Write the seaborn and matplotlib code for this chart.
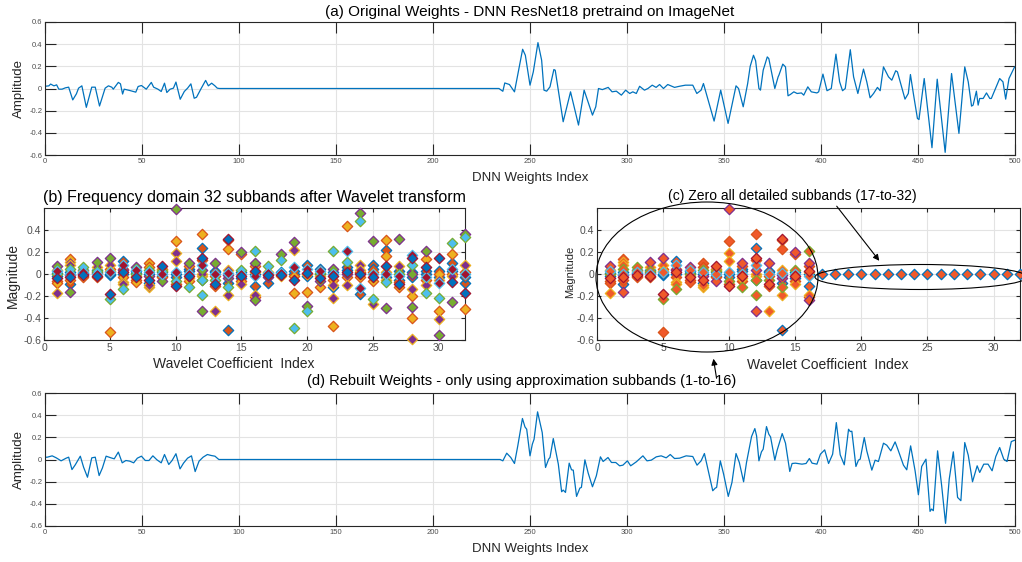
import numpy as np
import pandas as pd
import matplotlib.pyplot as plt
import seaborn as sns
from matplotlib.patches import Ellipse

# ---------------- data ----------------
# (a) original weights: vertices of the curve (index, amplitude)
orig_idx = [0, 2, 2.9, 4.6, 6, 7.1, 8.8, 10.5, 12.2, 14.3, 16.2, 17.3, 19, 21.3, 24.1, 25.9,
            28.1, 31, 32.7, 34.4, 35.2, 37.8, 38.9, 40, 40.8, 43.7, 46.8, 48, 49.7, 52.2, 54.8,
            56, 58.2, 59.9, 61.6, 62.8, 64.5, 66.2, 67.5, 69.7, 71.8, 73.5, 75.2, 76.9, 78.1,
            80.3, 82.8, 84.2, 85.9, 87.6, 88.8, 90, 234, 236, 237, 239.4, 242, 246.2, 247.6,
            250, 251.7, 254.1, 256, 257.2, 258.6, 260.3, 262.3, 263, 267.1, 270.9, 275, 277.9,
            282.2, 283.9, 285.3, 287.3, 290.3, 292.3, 294.5, 297.1, 299.3, 301.4, 303, 304.8,
            306.5, 309, 310.8, 313, 315, 316.8, 318.8, 321, 324.5, 327, 330.1, 333.9, 336,
            338.2, 339.4, 344.9, 348.3, 352.1, 356.2, 357.5, 359.9, 362.2, 363.5, 365.2, 366.3,
            368, 368.8, 370.2, 372.3, 373.1, 376.2, 377.9, 378.3, 380.3, 381.7, 383, 384.2, 386,
            387.7, 389.9, 391.1, 393.2, 395, 397.9, 398.8, 401, 403.1, 405.3, 407.7, 409.6,
            411.1, 412.5, 415.1, 416.8, 419, 421.9, 423.6, 425.3, 427.1, 429.1, 430.5, 432.2,
            434.8, 436.5, 438.5, 439.4, 443.3, 445, 446.1, 447.6, 449.7, 450.5, 453.2, 457.2,
            459.9, 464, 467.3, 471.1, 474.1, 475.9, 477.6, 478.4, 480.1, 481, 481.8, 483.6,
            485.3, 487, 487.8, 489.6, 492.1, 493.8, 495.2, 496.9, 499.8, 500]
orig_amp = [0.02, 0.024, 0.04, 0.024, 0.033, -0.006, -0.006, 0.006, 0.012, -0.103, -0.048,
            0.003, 0.024, -0.17, 0.012, 0.012, -0.158, 0.003, 0.024, 0.012, -0.006, 0.055,
            0.042, -0.05, -0.006, -0.018, -0.033, 0.018, 0.027, -0.006, 0.055, 0.012, -0.006,
            -0.027, 0.048, -0.036, -0.006, 0.003, 0.058, -0.097, -0.027, 0.003, 0.042, -0.088,
            -0.079, -0.006, 0.073, 0.024, 0.048, 0.024, 0.003, 0, 0, -0.025, 0.05, 0.036,
            -0.03, 0.354, 0.30, 0.03, 0.15, 0.414, 0.255, -0.015, -0.024, 0.015, 0.171, 0.165,
            -0.30, -0.03, -0.33, -0.015, -0.24, -0.165, 0, -0.01, 0.01, -0.03, -0.024, -0.06,
            -0.015, -0.045, -0.03, -0.045, 0.02, -0.015, 0, 0.03, 0.01, 0.036, 0, 0.036, 0.01,
            0.02, 0.03, 0.03, -0.045, -0.015, 0.045, -0.294, -0.015, -0.315, 0.024, 0.0,
            -0.165, 0.045, 0.2, 0.30, 0.25, 0.0, -0.015, 0.165, 0.285, 0.27, 0.0, 0.105, 0.12,
            0.22, 0.195, -0.066, -0.054, -0.03, -0.045, -0.04, -0.06, 0.015, -0.03, -0.04,
            -0.03, 0.13, -0.02, 0, 0.31, 0.06, -0.02, 0, 0.35, 0.105, -0.045, 0.175, 0.06,
            -0.084, -0.045, 0.01, -0.02, 0.195, 0.105, 0.075, 0.16, 0.15, -0.096, -0.045, 0.126,
            -0.045, -0.27, -0.28, 0.09, -0.534, 0.084, -0.576, 0.135, -0.405, 0.195, 0.06,
            -0.159, -0.15, -0.024, -0.15, -0.09, -0.09, -0.04, -0.09, -0.09, -0.015, 0.09, 0.06,
            -0.096, 0.09, 0.195, 0.19]

# (d) rebuilt weights: vertices of the curve (index, amplitude)
rebuilt_idx = [0, 1.2, 3.7, 5.8, 8.3, 10.9, 12.2, 13.9, 15.6, 18.2, 19.9, 21.9, 24.1, 25.9,
               27.9, 29.6, 31.5, 34, 35.7, 37.8, 39.8, 41.7, 43.7, 45.7, 47.6, 49.7, 51.7,
               53.6, 55.6, 57.7, 59.9, 61.6, 63.8, 65.5, 67.5, 69.6, 71.4, 73.5, 75.5, 77.4,
               79.4, 81.5, 83.7, 85.7, 87.6, 89.6, 234.6, 236, 238, 240.1, 242, 243.7, 246.1,
               247.4, 248.3, 250, 251.2, 252.1, 253.9, 256.3, 258, 259.6, 260.3, 262, 264.6,
               266.3, 267.1, 268.3, 270.2, 271.4, 272.3, 274, 275.7, 276.5, 278.3, 280, 282.2,
               284.2, 286.3, 287.7, 290.2, 292, 294.2, 296.2, 297.9, 300.2, 301.9, 304.8, 308.2,
               310.3, 312.5, 315.1, 317.6, 320.2, 322.3, 324.5, 327.1, 330.5, 333.9, 336.1,
               338.2, 339.9, 342.1, 344.2, 345.5, 346.2, 348.1, 349.8, 352.2, 354.1, 356.2,
               357.9, 360.1, 361.6, 364.2, 365.9, 366.8, 368, 369.3, 370.2, 371.9, 373.1, 374,
               376.2, 377.4, 380, 381.7, 383.9, 385.1, 386.8, 390.2, 392.3, 394, 395.4, 397.9,
               399.7, 401.9, 403.9, 406, 407.9, 409.9, 412, 414.2, 415.1, 415.9, 418, 419.3,
               420.2, 422.3, 423.6, 426.2, 427.9, 429.6, 432.2, 433.9, 436, 438.2, 439.6, 442.5,
               444.2, 446.2, 448.5, 450.2, 451.9, 454.1, 456.2, 457, 457.9, 460.1, 462.2, 464.2,
               466.1, 468.2, 470.4, 472.1, 474.1, 475.9, 478.1, 480.5, 481.8, 483.9, 486.1,
               488.2, 490.1, 492.1, 494.2, 495.9, 498.1, 499.8, 500]
rebuilt_amp = [0.02, 0.021, 0.033, 0.015, -0.012, 0.012, 0.021, -0.091, -0.048, 0.03, -0.07,
               -0.16, 0.015, 0.021, -0.145, -0.076, 0.03, 0.015, 0.006, 0.067, -0.03, -0.009,
               -0.015, -0.03, 0.012, 0.03, -0.009, -0.009, 0.033, -0.003, -0.03, 0.045, -0.045,
               -0.009, 0.052, -0.085, -0.033, 0.012, 0.033, -0.109, -0.015, 0.021, 0.045, 0.036,
               0.03, 0, 0, -0.012, 0.057, 0.018, -0.036, 0.123, 0.37, 0.294, 0.273, 0.033,
               0.138, 0.183, 0.43, 0.243, -0.072, 0.003, 0.018, 0.189, -0.042, -0.291, -0.276,
               -0.297, -0.033, -0.093, -0.096, -0.333, -0.258, -0.252, -0.003, -0.123, -0.246,
               -0.147, 0.024, -0.018, 0.018, -0.027, -0.027, -0.057, -0.051, -0.012, -0.057,
               -0.021, 0.033, -0.012, -0.006, 0.024, 0.033, 0.015, 0.045, 0.009, 0.012, 0.033,
               0.027, -0.051, -0.012, 0.054, -0.117, -0.282, -0.258, -0.252, -0.012, -0.132,
               -0.333, -0.207, 0.054, -0.027, -0.201, -0.027, 0.207, 0.279, 0.213, -0.012,
               0.069, 0.093, 0.297, 0.228, 0.204, -0.006, 0.084, 0.234, 0.147, -0.108, -0.036,
               -0.033, -0.042, -0.036, 0.009, -0.033, -0.042, 0.048, 0.087, -0.036, 0.048, 0.333,
               0.042, -0.048, 0.273, 0.252, 0.255, -0.063, -0.006, 0.003, 0.198, 0.078, -0.096,
               -0.006, -0.018, 0.147, 0.129, 0.078, 0.159, 0.093, -0.051, -0.093, 0.123, -0.102,
               -0.318, -0.063, 0.003, -0.468, -0.447, -0.462, 0.078, -0.237, -0.576, -0.177,
               0.069, -0.342, -0.372, 0.153, 0.039, -0.201, -0.057, -0.117, -0.042, -0.042,
               -0.102, 0.027, 0.108, 0.003, -0.018, 0.162, 0.174, 0.175]

# (b) wavelet coefficients per subband (1..32)
subband_values = [
    [-0.02, -0.06, -0.17, 0.07, 0.0, 0.03, -0.04, 0.01, -0.08, 0.04],
    [-0.09, 0.14, 0.11, -0.16, 0.05, 0.0, -0.03, 0.02, -0.05, 0.08, -0.01],
    [0.01, -0.02, 0.03, 0.0, 0.06, 0.02, -0.01, 0.04, -0.03],
    [0.02, -0.03, 0.06, 0.11, 0.03, 0.0, -0.02, 0.04, 0.01],
    [-0.01, -0.53, 0.08, 0.15, -0.23, 0.02, -0.18, 0.0, 0.05, 0.03],
    [0.12, 0.05, -0.07, 0.04, -0.14, 0.08, 0.02, 0.0, -0.03, -0.09],
    [0.03, -0.05, -0.02, 0.06, 0.0, 0.04, -0.03, 0.01, -0.07],
    [-0.08, 0.10, -0.12, -0.02, 0.04, 0.02, -0.05, 0.0, 0.06, -0.10],
    [0.02, -0.03, 0.04, -0.06, 0.03, 0.0, 0.07, -0.02, 0.05],
    [0.0, 0.30, 0.19, 0.59, -0.06, 0.02, -0.11, -0.03, -0.09, 0.12],
    [0.05, 0.07, -0.04, 0.10, -0.12, 0.0, -0.02, 0.03, -0.06],
    [0.24, 0.36, -0.02, -0.34, -0.19, 0.08, 0.15, -0.05, 0.13, 0.0, 0.04, -0.05],
    [0.02, -0.11, -0.34, 0.10, -0.05, 0.0, -0.09, 0.03, -0.02],
    [-0.51, 0.23, -0.19, -0.04, -0.12, 0.01, 0.32, -0.08, 0.31, 0.04, -0.01],
    [-0.04, 0.18, -0.09, 0.20, 0.04, 0.0, -0.02, 0.02, -0.06],
    [-0.11, 0.07, -0.19, -0.24, 0.21, -0.02, 0.03, 0.0, -0.21, 0.02, 0.10],
    [-0.08, 0.0, 0.02, -0.03, 0.07, 0.01, -0.01],
    [0.02, 0.0, -0.02, 0.18, 0.13, 0.01, -0.01],
    [0.0, -0.17, 0.22, 0.29, -0.49, 0.06, -0.05, 0.03, -0.02],
    [0.08, -0.16, 0.0, -0.29, -0.34, 0.05, 0.01, -0.02],
    [0.05, -0.12, -0.02, -0.06, 0.01, 0.03, -0.04, 0.0],
    [-0.12, -0.47, -0.22, 0.05, 0.21, 0.0, -0.02, 0.02, -0.05, -0.10],
    [0.04, 0.44, -0.10, 0.0, 0.11, 0.21, 0.02, 0.06, -0.03],
    [-0.18, 0.02, 0.08, 0.55, 0.48, -0.13, 0.0, 0.01, -0.03, 0.04],
    [0.08, -0.06, -0.27, 0.30, -0.23, 0.0, -0.03, 0.05, 0.02],
    [0.22, 0.31, 0.02, -0.31, -0.07, 0.0, 0.07, -0.03, 0.16, -0.05],
    [-0.05, -0.12, 0.07, 0.32, 0.0, -0.02, -0.09, 0.03, -0.07],
    [-0.03, -0.20, -0.59, -0.30, 0.08, 0.17, 0.15, 0.02, -0.40, -0.14, 0.0],
    [0.0, 0.14, -0.10, 0.21, -0.17, -0.03, 0.06, 0.03, -0.05],
    [-0.03, -0.34, -0.41, -0.55, -0.22, -0.08, 0.15, 0.03, 0.0, -0.05],
    [0.10, 0.18, -0.02, -0.25, 0.28, 0.05, -0.07, 0.03, 0.0],
    [-0.08, -0.32, 0.08, 0.36, 0.34, 0.0, -0.17, -0.03, 0.02],
]
n_kept = 16  # approximation subbands kept in (c)

weight_ticks = list(range(0, 501, 50))
amp_ticks = [-0.6, -0.4, -0.2, 0, 0.2, 0.4, 0.6]
band_ticks = [0, 5, 10, 15, 20, 25, 30]
mag_ticks = [-0.6, -0.4, -0.2, 0, 0.2, 0.4]

# ---------------- style ----------------
sns.set_theme(style="whitegrid")
plt.rcParams['font.family'] = ['Liberation Sans', 'DejaVu Sans']
mcol = ['#0072BD', '#D95319', '#EDB120', '#7E2F8E', '#77AC30', '#4DBEEE', '#A2142F']
AX_COL = '#262626'
W, H = 1022, 562


def rect(l, t, r, b):
    return [l / W, 1 - b / H, (r - l) / W, (b - t) / H]


def style_axes(ax, ticklen, tickfs):
    for s in ax.spines.values():
        s.set_color(AX_COL)
        s.set_linewidth(0.8)
    ax.grid(True, color='#e3e3e3', linewidth=0.8)
    ax.tick_params(direction='in', top=True, right=True, bottom=True, left=True,
                   length=ticklen, width=0.8, color=AX_COL, labelsize=tickfs,
                   labelcolor='#4d4d4d', pad=2)


def band_frame(zero_detail):
    rows = []
    for b, vals in enumerate(subband_values, start=1):
        if zero_detail and b > n_kept:
            vals = [0.0]
        for k, v in enumerate(vals):
            rows.append((b, v, k % 7))
    return pd.DataFrame(rows, columns=['band', 'value', 'grp'])


fig = plt.figure(figsize=(W / 100, H / 100), dpi=100)
ax_a = fig.add_axes(rect(45, 22, 1015, 155))
ax_b = fig.add_axes(rect(44, 208, 465, 340))
ax_c = fig.add_axes(rect(597, 208, 1020, 340))
ax_d = fig.add_axes(rect(45, 393, 1015, 526))

# (a) and (d) weight curves
for ax, xs, ys in [(ax_a, orig_idx, orig_amp), (ax_d, rebuilt_idx, rebuilt_amp)]:
    sns.lineplot(x=xs, y=ys, ax=ax, color='#0072BD', linewidth=0.9,
                 estimator=None, sort=False)
    ax.set_xlim(0, 500)
    ax.set_ylim(-0.6, 0.6)
    ax.set_xticks(weight_ticks)
    ax.set_yticks(amp_ticks)
    ax.set_yticklabels(['-0.6', '-0.4', '-0.2', '0', '0.2', '0.4', '0.6'])
    style_axes(ax, 8, 5.5)
    ax.set_xlabel('DNN Weights Index', fontsize=9.5, color=AX_COL, labelpad=5)
    ax.set_ylabel('Amplitude', fontsize=9.5, color=AX_COL, labelpad=3)

ax_a.set_title('(a) Original Weights - DNN ResNet18 pretraind on ImageNet',
               fontsize=11, color='black', pad=4)
fig.text(522 / W, 1 - 381 / H,
         '(d) Rebuilt Weights - only using approximation subbands (1-to-16)',
         ha='center', va='center', fontsize=10.5, color='black')

# (b) and (c) subband scatter
for ax, zero_detail in [(ax_b, False), (ax_c, True)]:
    df = band_frame(zero_detail)
    for g in range(7):
        sub = df[df['grp'] == g]
        face = '#F0592A' if zero_detail else mcol[(g + 1) % 7]
        sns.scatterplot(data=sub, x='band', y='value', ax=ax, marker='D', s=28,
                        color=face, edgecolor=mcol[g], linewidth=0.9,
                        legend=False, zorder=3, clip_on=False)
    ax.set_xlim(0, 32)
    ax.set_ylim(-0.6, 0.6)
    ax.set_xticks(band_ticks)
    ax.set_yticks(mag_ticks)
    ax.set_yticklabels(['-0.6', '-0.4', '-0.2', '0', '0.2', '0.4'])
    style_axes(ax, 3, 7.5)
    ax.set_xlabel('')
    ax.set_ylabel('')

ax_b.set_title('(b) Frequency domain 32 subbands after Wavelet transform',
               fontsize=11.5, color='black', pad=4)
fig.text(234 / W, 1 - 364 / H, 'Wavelet Coefficient  Index', ha='center', va='center',
         fontsize=10, color=AX_COL)
fig.text(13 / W, 1 - 276 / H, 'Magnitude', rotation=90, ha='center', va='center',
         fontsize=10, color=AX_COL)
fig.text(828 / W, 1 - 365 / H, 'Wavelet Coefficient  Index', ha='center', va='center',
         fontsize=10, color=AX_COL)
fig.text(570 / W, 1 - 272 / H, 'Magnitude', rotation=90, ha='center', va='center',
         fontsize=8, color=AX_COL)
fig.text(792 / W, 1 - 196 / H, '(c) Zero all detailed subbands (17-to-32)',
         ha='center', va='center', fontsize=10, color='black')

# ellipses and arrows around (c)
fig.add_artist(Ellipse((707 / W, 1 - 277 / H), 222 / W, 150 / H, transform=fig.transFigure,
                       fill=False, edgecolor='black', linewidth=0.8))
fig.add_artist(Ellipse((921 / W, 1 - 277 / H), 212 / W, 25 / H, transform=fig.transFigure,
                       fill=False, edgecolor='black', linewidth=0.8))
arrow = dict(arrowstyle='-|>', color='black', lw=0.8, mutation_scale=9)
ax_c.annotate('', xy=(881, H - 263), xytext=(835, H - 204), xycoords='figure pixels',
              textcoords='figure pixels', arrowprops=arrow, annotation_clip=False)
ax_c.annotate('', xy=(713, H - 356), xytext=(717, H - 381), xycoords='figure pixels',
              textcoords='figure pixels', arrowprops=arrow, annotation_clip=False)

fig.savefig('out.png', dpi=100)
